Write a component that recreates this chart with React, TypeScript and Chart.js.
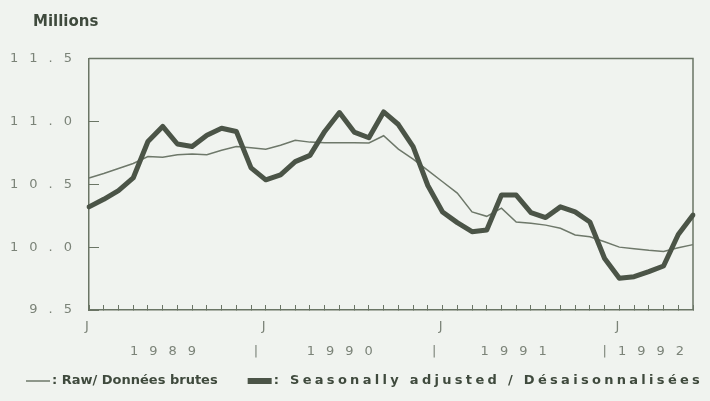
import React, { useEffect, useRef } from "react";
import { Chart, registerables } from "chart.js";

Chart.register(...registerables);

// ---------- data ----------
const years = [1989, 1990, 1991, 1992];
const monthLetters = ["J", "F", "M", "A", "M", "J", "J", "A", "S", "O", "N", "D"];
const monthCount = 42; // Jan 1989 .. Jun 1992
const categories: string[] = [];
for (const y of years) {
  for (let m = 0; m < 12; m++) {
    if (categories.length < monthCount) categories.push(`${y}-${String(m + 1).padStart(2, "0")}`);
  }
}

// Raw / Données brutes (millions)
const rawSeries = [
  10.55, 10.585, 10.625, 10.665, 10.72, 10.715, 10.735, 10.74, 10.735, 10.77, 10.8, 10.79,
  10.778, 10.81, 10.85, 10.835, 10.83, 10.83, 10.83, 10.828, 10.886, 10.78, 10.7, 10.61,
  10.52, 10.43, 10.28, 10.245, 10.31, 10.2, 10.19, 10.175, 10.15, 10.096, 10.083, 10.043,
  10.0, 9.988, 9.975, 9.965, 9.995, 10.02,
];

// Seasonally adjusted / Désaisonnalisées (millions)
const adjustedSeries = [
  10.32, 10.38, 10.45, 10.55, 10.84, 10.96, 10.82, 10.8, 10.89, 10.945, 10.92, 10.63,
  10.535, 10.575, 10.68, 10.73, 10.92, 11.07, 10.915, 10.87, 11.075, 10.975, 10.8, 10.49,
  10.28, 10.195, 10.123, 10.136, 10.414, 10.414, 10.275, 10.235, 10.32, 10.28, 10.2, 9.91,
  9.752, 9.765, 9.805, 9.85, 10.1, 10.255,
];

const yMin = 9.5;
const yMax = 11.5;
const yStep = 0.5;

// second row of x labels (years), placed in month-index units
const yearRowLabels = ["1989", "|", "1990", "|", "1991", "|1992"];
const yearRowPos = [5.4, 11.7, 17.4, 23.8, 29.2, 38.0];

const titleText = "Millions";
const legendLabels = ["Raw/ Données brutes", "Seasonally adjusted / Désaisonnalisées"];

// ---------- styles ----------
const BG = "#f0f3ef";
const AXIS = "#6a7565";
const TICK_TEXT = "#7b8378";
const TEXT = "#3f4a3d";
const THIN = "#6e786a";
const THICK = "#4b5447";

function letterSpaced(ls: string) {
  return (scale: any) => {
    if (scale.__lsPatched) return;
    scale.__lsPatched = true;
    scale._computeLabelArea = () => undefined; // no clipping of the spaced labels
    const orig = scale.drawLabels;
    scale.drawLabels = function (area: any) {
      const ctx = this.ctx;
      ctx.save();
      ctx.letterSpacing = ls;
      orig.call(this, area);
      ctx.restore();
    };
  };
}

const framePlugin = {
  id: "frame",
  beforeDatasetsDraw(chart: any) {
    const { ctx, chartArea } = chart;
    ctx.save();
    ctx.strokeStyle = AXIS;
    ctx.lineWidth = 1.5;
    ctx.beginPath();
    ctx.moveTo(chartArea.left, chartArea.top);
    ctx.lineTo(chartArea.right, chartArea.top);
    ctx.lineTo(chartArea.right, chartArea.bottom);
    ctx.stroke();
    ctx.restore();
  },
};

const legendSwatch = [1.5, 6];
const legendSpacing = ["0px", "3.3px"];
const legendPlugin = {
  id: "bottomLegend",
  afterDraw(chart: any) {
    const ctx = chart.ctx;
    const y = 381;
    let x = 26;
    ctx.save();
    ctx.font = "bold 13px 'DejaVu Sans'";
    ctx.textBaseline = "middle";
    ctx.textAlign = "left";
    chart.data.datasets.forEach((ds: any, i: number) => {
      ctx.strokeStyle = ds.borderColor;
      ctx.lineWidth = legendSwatch[i];
      ctx.beginPath();
      ctx.moveTo(x, y);
      ctx.lineTo(x + 24, y);
      ctx.stroke();
      x += 26;
      ctx.letterSpacing = legendSpacing[i];
      ctx.fillStyle = TEXT;
      const text = ": " + ds.label;
      ctx.fillText(text, x, y);
      x += ctx.measureText(text).width + 30;
      ctx.letterSpacing = "0px";
    });
    ctx.restore();
  },
};

const axisFont = { family: "'DejaVu Sans', sans-serif", size: 13 };

export default function App() {
  const ref = useRef<HTMLCanvasElement>(null);
  useEffect(() => {
    const chart = new Chart(ref.current as HTMLCanvasElement, {
      type: "line",
      data: {
        labels: categories,
        datasets: [
          {
            label: legendLabels[0],
            data: rawSeries,
            borderColor: THIN,
            borderWidth: 1.5,
            pointRadius: 0,
            tension: 0,
            fill: false,
            order: 1,
          },
          {
            label: legendLabels[1],
            data: adjustedSeries,
            borderColor: THICK,
            borderWidth: 5,
            pointRadius: 0,
            tension: 0,
            fill: false,
            order: 0,
            borderJoinStyle: "round",
            borderCapStyle: "round",
          },
        ],
      },
      options: {
        animation: false,
        responsive: false,
        devicePixelRatio: 1,
        events: [],
        layout: { padding: { left: 33, right: 17, top: 0, bottom: 51 } },
        plugins: {
          legend: { display: false },
          tooltip: { enabled: false },
          title: {
            display: true,
            text: titleText,
            align: "start",
            color: TEXT,
            font: { family: "'DejaVu Sans'", size: 15, weight: "bold" },
            padding: { top: 13, bottom: 27.5 },
          },
        },
        scales: {
          x: {
            type: "category",
            position: "bottom",
            weight: 0,
            grid: {
              display: true,
              drawOnChartArea: false,
              drawTicks: true,
              tickLength: -5,
              color: AXIS,
              lineWidth: 1,
            },
            border: { display: true, color: AXIS, width: 1.5 },
            ticks: {
              autoSkip: false,
              maxRotation: 0,
              minRotation: 0,
              padding: 14,
              color: TICK_TEXT,
              font: axisFont,
              callback: (_v: any, i: number) => (i % 12 === 0 ? monthLetters[i % 12] : ""),
            },
            afterFit: (s: any) => {
              s.height = 20;
            },
            afterUpdate: letterSpaced("4px"),
          },
          x2: {
            type: "linear",
            position: "bottom",
            weight: 1,
            min: 0,
            max: monthCount - 1,
            grid: { display: false, drawTicks: false },
            border: { display: false },
            afterBuildTicks: (s: any) => {
              s.ticks = yearRowPos.map((v) => ({ value: v }));
            },
            ticks: {
              autoSkip: false,
              maxRotation: 0,
              minRotation: 0,
              padding: 14,
              color: TICK_TEXT,
              font: axisFont,
              callback: (_v: any, i: number) => yearRowLabels[i],
            },
            afterFit: (s: any) => {
              s.height = 20;
            },
            afterUpdate: letterSpaced("11px"),
          },
          y: {
            type: "linear",
            position: "left",
            min: yMin,
            max: yMax,
            grid: {
              display: true,
              drawOnChartArea: false,
              drawTicks: true,
              tickLength: -10,
              color: AXIS,
              lineWidth: 1,
            },
            border: { display: true, color: AXIS, width: 1.5 },
            ticks: {
              stepSize: yStep,
              padding: 16,
              color: TICK_TEXT,
              font: axisFont,
              callback: (v: any) => Number(v).toFixed(1),
            },
            afterFit: (s: any) => {
              s.width = 56;
            },
            afterUpdate: letterSpaced("11px"),
          },
        },
      },
      plugins: [framePlugin, legendPlugin],
    } as any);
    return () => chart.destroy();
  }, []);

  return (
    <div style={{ position: "fixed", left: 0, top: 0, width: 710, height: 401, background: BG }}>
      <canvas ref={ref} width={710} height={401} style={{ display: "block", width: 710, height: 401 }} />
    </div>
  );
}
